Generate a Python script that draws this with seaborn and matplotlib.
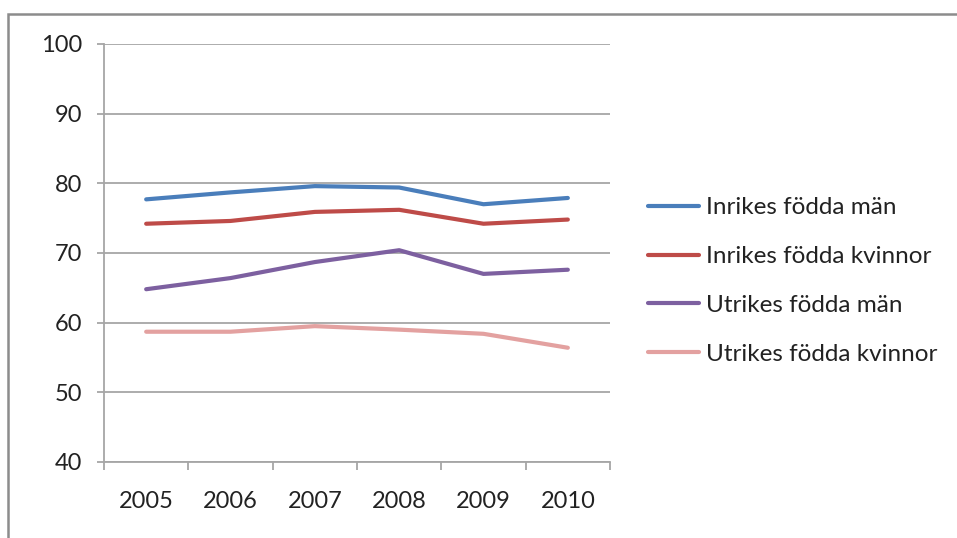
import matplotlib.pyplot as plt
import matplotlib.patches as patches
import pandas as pd
import seaborn as sns

# data
years = ['2005', '2006', '2007', '2008', '2009', '2010']
inrikes_man = [77.7, 78.7, 79.6, 79.4, 77.0, 77.9]
inrikes_kvinnor = [74.2, 74.6, 75.9, 76.2, 74.2, 74.8]
utrikes_man = [64.8, 66.4, 68.7, 70.4, 67.0, 67.6]
utrikes_kvinnor = [58.7, 58.7, 59.5, 59.0, 58.4, 56.4]

series = ['Inrikes födda män', 'Inrikes födda kvinnor', 'Utrikes födda män', 'Utrikes födda kvinnor']
colors = ['#4a7ebb', '#be4b48', '#7d60a0', '#e3a1a0']

rows = []
for name, vals in zip(series, [inrikes_man, inrikes_kvinnor, utrikes_man, utrikes_kvinnor]):
    for i, v in enumerate(vals):
        rows.append({'pos': i, 'value': v, 'serie': name})
df = pd.DataFrame(rows)

sns.set_style('white')
plt.rcParams['font.family'] = ['Lato', 'DejaVu Sans']

fig = plt.figure(figsize=(9.57, 5.38), dpi=100)
ax = fig.add_axes([104 / 957, 1 - 462 / 538, (610 - 104) / 957, (462 - 44) / 538])

sns.lineplot(data=df, x='pos', y='value', hue='serie', hue_order=series,
             palette=colors, linewidth=3, ax=ax)

ax.set_xlim(-0.5, 5.5)
ax.set_ylim(40, 100)
ax.set_yticks(range(40, 101, 10))
ax.set_xticks(range(len(years)))
ax.set_xticklabels(years)
ax.set_xticks([i - 0.5 for i in range(len(years) + 1)], minor=True)
ax.set_xlabel('')
ax.set_ylabel('')

grid_col = '#a6a6a6'
ax.yaxis.grid(True, color=grid_col, linewidth=1.3)
ax.set_axisbelow(True)
for s in ['top', 'right']:
    ax.spines[s].set_visible(False)
for s in ['left', 'bottom']:
    ax.spines[s].set_color(grid_col)
    ax.spines[s].set_linewidth(1.3)

ax.tick_params(axis='y', which='major', length=5, width=1.3, color=grid_col,
               pad=11, labelsize=17, labelcolor='#222222', left=True)
ax.tick_params(axis='x', which='major', length=0, pad=21, labelsize=17, labelcolor='#222222')
ax.tick_params(axis='x', which='minor', length=6, width=1.3, color=grid_col, bottom=True)

ax.legend(loc='center left', bbox_to_anchor=(648 / 957, 1 - 281 / 538),
          bbox_transform=fig.transFigure, frameon=False, fontsize=17.5,
          handlelength=2.1, handletextpad=0.3, labelspacing=1.15,
          borderpad=0, borderaxespad=0, labelcolor='#222222')
for line in ax.get_legend().get_lines():
    line.set_linewidth(3)

# chart frame, cut off at the right and bottom as in the source
fig.add_artist(patches.Rectangle((8 / 957, -0.1), 1.2, 1 - 14 / 538 + 0.1,
                                 transform=fig.transFigure, fill=False,
                                 edgecolor='#8c8c8c', linewidth=1.8))

fig.savefig('out.png', dpi=100)
